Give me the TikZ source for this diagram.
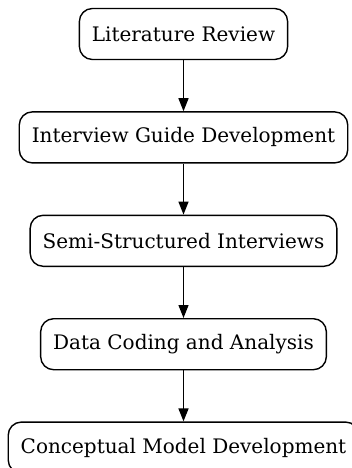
\documentclass[tikz,border=0pt]{standalone}
\usepackage{fontspec}
\setmainfont{DejaVu Serif}
\usetikzlibrary{positioning,arrows.meta}
\begin{document}
\begin{tikzpicture}[x=1pt,y=1pt,
    stage/.style={draw, rounded corners=13pt, line width=1.4pt, minimum height=51pt,
        inner xsep=12.5pt, font=\fontsize{20}{24}\selectfont},
    flow/.style={-{Triangle[length=13pt,width=10pt]}, line width=1.4pt},
    node distance=51pt]
            \useasboundingbox (0,0) rectangle (352,-468);
            \node [stage] (review) at(183.5,-34) {Literature Review};
            \node [stage, below=of review] (guide) {Interview Guide Development};
            \node [stage, below=of guide] (interviews) {Semi-Structured Interviews};
            \node [stage, below=of interviews] (coding) {Data Coding and Analysis};
            \node [stage, below=of coding] (model) {Conceptual Model Development};
            \draw [flow] (review)--(guide);
            \draw [flow] (guide)--(interviews);
            \draw [flow] (interviews)--(coding);
            \draw [flow] (coding)--(model);
        \end{tikzpicture}
\end{document}
